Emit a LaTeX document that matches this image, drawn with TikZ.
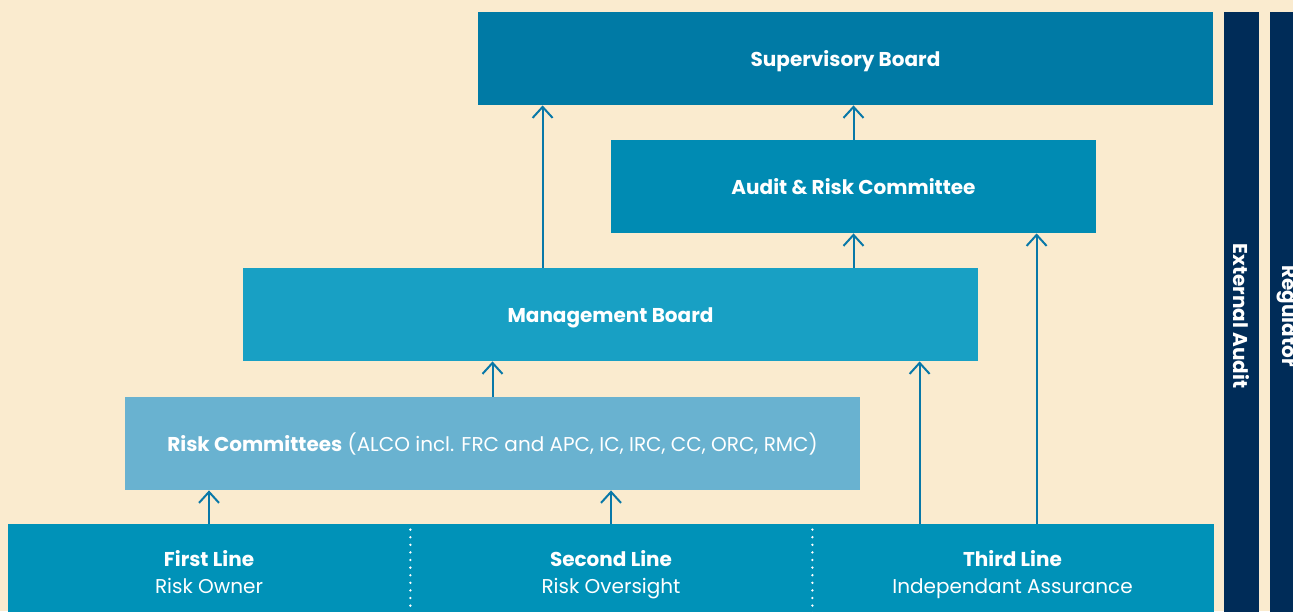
\documentclass[tikz,border=0pt]{standalone}
\usepackage{fontspec}
\setmainfont{Poppins}
\usetikzlibrary{arrows.meta,calc}
\definecolor{cream}{RGB}{250,235,207}
\definecolor{sbblue}{RGB}{0,122,165}
\definecolor{arcblue}{RGB}{0,139,179}
\definecolor{mbblue}{RGB}{24,160,196}
\definecolor{rcblue}{RGB}{105,178,208}
\definecolor{lineblue}{RGB}{0,146,184}
\definecolor{barblue}{RGB}{0,44,88}
\definecolor{arrblue}{RGB}{8,120,168}
\newcommand\tstrut{\rule[-4.05pt]{0pt}{16.5pt}}

\begin{document}
\begin{tikzpicture}[x=0.5pt,y=-0.5pt,
  box/.style={inner sep=0pt,text=white,align=center,minimum height=46.5pt,
    font=\fontsize{10}{13.5}\selectfont},
  bar/.style={fill=barblue,text=white,inner sep=0pt,rotate=-90,
    minimum width=304pt,minimum height=17.5pt,font=\bfseries\fontsize{10}{12}\selectfont},
  arr/.style={draw=arrblue,line width=1pt,-{Straight Barb[length=5.5pt,width=10pt]}},
  sep/.style={draw=white,line width=1.3pt,line cap=round,dash pattern=on 0pt off 3.8pt}]
\useasboundingbox (0,0) rectangle (1293,611);
\fill[cream] (0,0) rectangle (1293,611);

\node[box,fill=sbblue,minimum width=367.5pt] (sb) at (845.5,58.5) {\textbf{Supervisory Board}\tstrut};
\node[box,fill=arcblue,minimum width=242.5pt] (arc) at (853.5,186.5) {\textbf{Audit \& Risk Committee}\tstrut};
\node[box,fill=mbblue,minimum width=367.5pt] (mb) at (610.5,314.5) {\textbf{Management Board}\tstrut};
\node[box,fill=rcblue,minimum width=367.5pt] (rc) at (492.5,443.5)
  {\textbf{Risk Committees} (ALCO incl. FRC and APC, IC, IRC, CC, ORC, RMC)\tstrut};

\foreach \n/\x/\a/\b in {first/209/First Line/Risk Owner,
    second/611/Second Line/Risk Oversight,
    third/1012.5/Third Line/Independant Assurance}
  \node[box,fill=lineblue,minimum width=201pt,minimum height=48pt] (\n) at (\x,572)
    {\textbf{\a}\tstrut\\\b\strut};
\draw[sep] ([yshift=-3pt]first.north east) -- (first.south east);
\draw[sep] ([yshift=-3pt]second.north east) -- (second.south east);

\node[bar] (ext) at (1241.5,316) {External Audit};
\node[bar] (reg) at (1287.5,316) {Regulator};

\draw[arr] ($(mb.north west)+(300,0)$) coordinate (a1) -- (a1 |- sb.south);
\draw[arr] (arc.north) -- (arc.north |- sb.south);
\draw[arr] (mb.north -| arc.north) -- (arc.south);
\draw[arr] ($(third.north west)+(225.5,0)$) coordinate (a2) -- (a2 |- arc.south);
\draw[arr] ($(third.north west)+(108.5,0)$) coordinate (a3) -- (a3 |- mb.south);
\draw[arr] (rc.north) -- (rc.north |- mb.south);
\draw[arr] (first.north) -- (first.north |- rc.south);
\draw[arr] (second.north) -- (second.north |- rc.south);
\end{tikzpicture}
\end{document}
